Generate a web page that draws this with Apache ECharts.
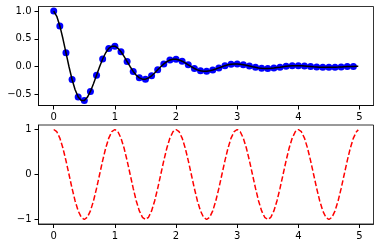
<!DOCTYPE html>
<html><head><meta charset="utf-8">
<script src="https://cdn.jsdelivr.net/npm/echarts@6/dist/echarts.min.js"></script>
<style>html,body{margin:0;padding:0;background:#fff}#c{width:380px;height:248px}</style>
</head><body><div id="c"></div>
<script>
// Top panel: sample points (t = 0, 0.1, ..., 4.9)
const dotT = [0.0,0.1,0.2,0.3,0.4,0.5,0.6,0.7,0.8,0.9,1.0,1.1,1.2,1.3,1.4,1.5,1.6,1.7,1.8,1.9,2.0,2.1,2.2,2.3,2.4,2.5,2.6,2.7,2.8,2.9,3.0,3.1,3.2,3.3,3.4,3.5,3.6,3.7,3.8,3.9,4.0,4.1,4.2,4.3,4.4,4.5,4.6,4.7,4.8,4.9];
const dotY = [1.000,0.732,0.253,-0.229,-0.542,-0.607,-0.444,-0.153,0.139,0.329,0.368,0.269,0.093,-0.084,-0.200,-0.223,-0.163,-0.056,0.051,0.121,0.135,0.099,0.034,-0.031,-0.073,-0.082,-0.060,-0.021,0.019,0.045,0.050,0.036,0.013,-0.011,-0.027,-0.030,-0.022,-0.008,0.007,0.016,0.018,0.013,0.005,-0.004,-0.010,-0.011,-0.008,-0.003,0.003,0.006];
// Top panel: black curve (t step 0.05)
const lineT = [0,0.05,0.1,0.15,0.2,0.25,0.3,0.35,0.4,0.45,0.5,0.55,0.6,0.65,0.7,0.75,0.8,0.85,0.9,0.95,1,1.05,1.1,1.15,1.2,1.25,1.3,1.35,1.4,1.45,1.5,1.55,1.6,1.65,1.7,1.75,1.8,1.85,1.9,1.95,2,2.05,2.1,2.15,2.2,2.25,2.3,2.35,2.4,2.45,2.5,2.55,2.6,2.65,2.7,2.75,2.8,2.85,2.9,2.95,3,3.05,3.1,3.15,3.2,3.25,3.3,3.35,3.4,3.45,3.5,3.55,3.6,3.65,3.7,3.75,3.8,3.85,3.9,3.95,4,4.05,4.1,4.15,4.2,4.25,4.3,4.35,4.4,4.45,4.5,4.55,4.6,4.65,4.7,4.75,4.8,4.85,4.9,4.95,4.98];
const lineY = [1.000,0.905,0.732,0.506,0.253,0,-0.229,-0.414,-0.542,-0.606,-0.607,-0.549,-0.444,-0.307,-0.153,0,0.139,0.251,0.329,0.368,0.368,0.333,0.269,0.186,0.093,0,-0.084,-0.152,-0.200,-0.223,-0.223,-0.202,-0.163,-0.113,-0.056,0,0.051,0.092,0.121,0.135,0.135,0.122,0.099,0.068,0.034,0,-0.031,-0.056,-0.073,-0.082,-0.082,-0.074,-0.060,-0.042,-0.021,0,0.019,0.034,0.045,0.050,0.050,0.045,0.036,0.025,0.013,0,-0.011,-0.021,-0.027,-0.030,-0.030,-0.027,-0.022,-0.015,-0.008,0,0.007,0.013,0.016,0.018,0.018,0.017,0.013,0.009,0.005,0,-0.004,-0.008,-0.010,-0.011,-0.011,-0.010,-0.008,-0.006,-0.003,0,0.003,0.005,0.006,0.007,0.007];
// Bottom panel: red dashed curve (t step 0.05)
const cosT = lineT;
const cosY = [1,0.951,0.809,0.588,0.309,0,-0.309,-0.588,-0.809,-0.951,-1,-0.951,-0.809,-0.588,-0.309,0,0.309,0.588,0.809,0.951,
1,0.951,0.809,0.588,0.309,0,-0.309,-0.588,-0.809,-0.951,-1,-0.951,-0.809,-0.588,-0.309,0,0.309,0.588,0.809,0.951,
1,0.951,0.809,0.588,0.309,0,-0.309,-0.588,-0.809,-0.951,-1,-0.951,-0.809,-0.588,-0.309,0,0.309,0.588,0.809,0.951,
1,0.951,0.809,0.588,0.309,0,-0.309,-0.588,-0.809,-0.951,-1,-0.951,-0.809,-0.588,-0.309,0,0.309,0.588,0.809,0.951,
1,0.951,0.809,0.588,0.309,0,-0.309,-0.588,-0.809,-0.951,-1,-0.951,-0.809,-0.588,-0.309,0,0.309,0.588,0.809,0.951,0.992];
// Tick values and labels
const xTicks = [0,1,2,3,4,5];
const xTickLabels = ['0','1','2','3','4','5'];
const yTopTicks = [-0.5,0,0.5,1];
const yTopLabels = ['\u22120.5','0.0','0.5','1.0'];
const yBotTicks = [-1,0,1];
const yBotLabels = ['\u22121','0','1'];

const zip = (a,b) => a.map((v,i) => [v,b[i]]);
const font = 'DejaVu Sans';
const axLine = {show:true, onZero:false, lineStyle:{color:'#000', width:0.8}};
function xAxis(gi){
  return {type:'value', gridIndex:gi, min:-0.249, max:5.229, position:'bottom',
    splitLine:{show:false}, axisLine:axLine,
    axisTick:{show:true, customValues:xTicks, length:4, lineStyle:{color:'#000',width:1}},
    axisLabel:{customValues:xTicks, margin:7, color:'#000', fontSize:10, fontFamily:font,
      formatter:v=>{const i=xTicks.findIndex(t=>Math.abs(t-v)<1e-9);return i>=0?xTickLabels[i]:'';}}};
}
function yAxis(gi,min,max,ticks,labels){
  return {type:'value', gridIndex:gi, min:min, max:max, position:'left',
    splitLine:{show:false}, axisLine:axLine,
    axisTick:{show:true, customValues:ticks, length:4, lineStyle:{color:'#000',width:1}},
    axisLabel:{customValues:ticks, margin:7, color:'#000', fontSize:10, fontFamily:font,
      formatter:v=>{const i=ticks.findIndex(t=>Math.abs(t-v)<1e-9);return i>=0?labels[i]:'';}}};
}
const chart = echarts.init(document.getElementById('c'), null, {renderer:'canvas'});
chart.setOption({
  animation:false,
  grid:[
    {left:38.5, top:6.5, width:335, height:99, show:true, borderColor:'#000', borderWidth:0.8},
    {left:38.5, top:125, width:335, height:99, show:true, borderColor:'#000', borderWidth:0.8}
  ],
  xAxis:[xAxis(0), xAxis(1)],
  yAxis:[yAxis(0,-0.696,1.081,yTopTicks,yTopLabels), yAxis(1,-1.1,1.1,yBotTicks,yBotLabels)],
  series:[
    {type:'scatter', xAxisIndex:0, yAxisIndex:0, data:zip(dotT,dotY), symbol:'circle', symbolSize:7,
      itemStyle:{color:'#0000ff', opacity:1}},
    {type:'line', xAxisIndex:0, yAxisIndex:0, data:zip(lineT,lineY), showSymbol:false, symbol:'none',
      lineStyle:{color:'#000', width:1.5}},
    {type:'line', xAxisIndex:1, yAxisIndex:1, data:zip(cosT,cosY), showSymbol:false, symbol:'none',
      lineStyle:{color:'#ff0000', width:1.5, type:[5.5,2.4]}}
  ]
});
</script></body></html>
